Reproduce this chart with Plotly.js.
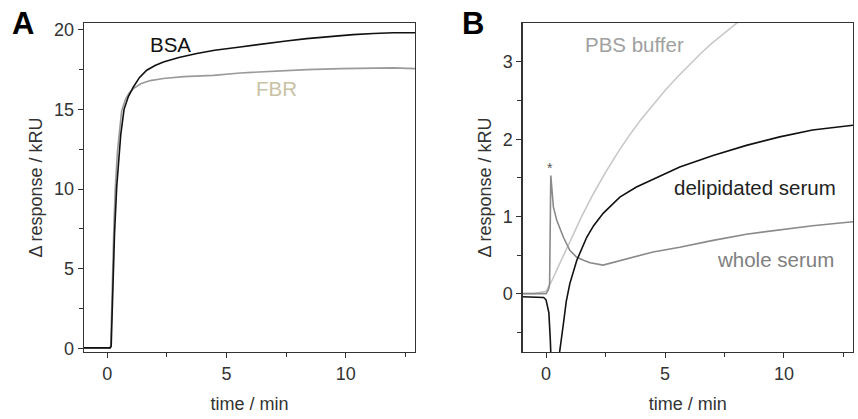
<!DOCTYPE html>
<html>
<head>
<meta charset="utf-8">
<script src="https://cdn.plot.ly/plotly-3.0.1.min.js"></script>
<style>html,body{margin:0;padding:0;background:#fff;}#chart{width:858px;height:419px;}</style>
</head>
<body>
<div id="chart"></div>
<script>
// Panel A: BSA and FBR adsorption (time / min, response / kRU)
const bsaTime = [-1, 0.12, 0.16, 0.2, 0.25, 0.3, 0.39, 0.49, 0.56, 0.7, 0.88, 1.09, 1.35, 1.65, 2.0, 2.35, 3.0, 3.75, 4.5, 5.57, 6.5, 7.5, 8.36, 9.5, 10.3, 11.16, 12.0, 12.9];
const bsaResp = [0.05, 0.05, 0.15, 2.5, 5.1, 7.2, 10.1, 12.4, 13.4, 15.0, 15.8, 16.4, 17.0, 17.45, 17.75, 17.97, 18.25, 18.5, 18.7, 18.91, 19.1, 19.28, 19.43, 19.6, 19.68, 19.75, 19.8, 19.8];
const fbrTime = [-1, 0.1, 0.14, 0.18, 0.23, 0.28, 0.33, 0.42, 0.5, 0.6, 0.75, 0.9, 1.09, 1.4, 1.8, 2.35, 3.2, 4.45, 5.57, 7.0, 8.36, 9.8, 11.16, 12.0, 12.9];
const fbrResp = [0.05, 0.05, 0.2, 2.8, 5.5, 8.0, 10.0, 12.3, 13.5, 14.9, 15.6, 16.0, 16.3, 16.6, 16.8, 16.93, 17.05, 17.13, 17.28, 17.4, 17.49, 17.55, 17.6, 17.6, 17.55];

// Panel B
const pbsTime = [-1, -0.5, 0, 0.25, 0.5, 1.0, 1.5, 2.0, 2.5, 3.0, 3.5, 4.0, 4.5, 5.0, 5.5, 6.0, 6.5, 7.0, 7.5, 8.0, 8.5];
const pbsResp = [0.0, 0.0, 0.03, 0.17, 0.34, 0.68, 1.0, 1.3, 1.57, 1.82, 2.05, 2.26, 2.45, 2.63, 2.8, 2.96, 3.11, 3.25, 3.38, 3.5, 3.62];
const delipTime = [-1, -0.5, -0.1, 0.0, 0.05, 0.12, 0.18, 0.22, 0.3, 0.45, 0.56, 0.73, 0.85, 1.0, 1.29, 1.71, 2.0, 2.4, 3.1, 3.8, 4.64, 5.62, 7.02, 8.42, 9.82, 11.2, 12.9];
const delipResp = [-0.04, -0.05, -0.05, -0.08, -0.14, -0.25, -0.6, -1.2, -1.6, -1.3, -0.78, -0.39, -0.1, 0.13, 0.43, 0.73, 0.88, 1.04, 1.25, 1.38, 1.5, 1.64, 1.79, 1.92, 2.03, 2.12, 2.18];
const wholeTime = [-1, -0.5, 0.0, 0.1, 0.15, 0.2, 0.24, 0.31, 0.45, 0.6, 0.73, 1.0, 1.29, 1.6, 1.85, 2.4, 3.1, 4.5, 5.62, 7.02, 8.42, 9.82, 11.2, 12.9];
const wholeResp = [0.0, 0.0, 0.0, 0.05, 0.12, 1.53, 1.38, 1.12, 0.95, 0.82, 0.73, 0.56, 0.47, 0.43, 0.4, 0.37, 0.43, 0.54, 0.6, 0.69, 0.77, 0.83, 0.88, 0.93];

const xTicks = [0, 5, 10];
const yTicksA = [0, 5, 10, 15, 20];
const yTicksB = [0, 1, 2, 3];

const FONT = 'Liberation Sans, Arial, sans-serif';
const axisCommon = {
  showline: true, linecolor: '#333', linewidth: 1.3, mirror: true,
  ticks: 'outside', ticklen: 5, tickcolor: '#333', tickwidth: 1,
  showgrid: false, zeroline: false,
  tickfont: {family: FONT, size: 18, color: '#333'},
  minor: {ticks: 'outside', ticklen: 4, tickcolor: '#333', tickwidth: 1, showgrid: false}
};
const titleFont = {family: FONT, size: 18, color: '#333'};

const traces = [
  {x: fbrTime, y: fbrResp, xaxis: 'x', yaxis: 'y', mode: 'lines', line: {color: '#9a9a9a', width: 1.6}, name: 'FBR'},
  {x: bsaTime, y: bsaResp, xaxis: 'x', yaxis: 'y', mode: 'lines', line: {color: '#111', width: 1.6}, name: 'BSA'},
  {x: pbsTime, y: pbsResp, xaxis: 'x2', yaxis: 'y2', mode: 'lines', line: {color: '#c8c8c8', width: 1.6}, name: 'PBS buffer'},
  {x: wholeTime, y: wholeResp, xaxis: 'x2', yaxis: 'y2', mode: 'lines', line: {color: '#8a8a8a', width: 1.6}, name: 'whole serum'},
  {x: delipTime, y: delipResp, xaxis: 'x2', yaxis: 'y2', mode: 'lines', line: {color: '#111', width: 1.6}, name: 'delipidated serum'}
];

const layout = {
  width: 858, height: 419,
  margin: {l: 84, r: 5, t: 23, b: 67},
  paper_bgcolor: '#fff', plot_bgcolor: '#fff',
  showlegend: false,
  font: {family: FONT, color: '#333'},
  xaxis: Object.assign({}, axisCommon, {domain: [0, 0.4304], range: [-0.98, 12.9], tickvals: xTicks, ticktext: xTicks.map(String), minor: Object.assign({}, axisCommon.minor, {tickvals: [2.5, 7.5, 12.5]}), title: {text: 'time / min', font: titleFont, standoff: 14}}),
  yaxis: Object.assign({}, axisCommon, {domain: [0, 1], range: [-0.21, 20.41], tickvals: yTicksA, ticktext: yTicksA.map(String), minor: Object.assign({}, axisCommon.minor, {tickvals: [2.5, 7.5, 12.5, 17.5]}), title: {text: '\u0394 response / kRU', font: titleFont, standoff: 6}}),
  xaxis2: Object.assign({}, axisCommon, {domain: [0.5705, 1], anchor: 'y2', range: [-0.98, 12.9], tickvals: xTicks, ticktext: xTicks.map(String), minor: Object.assign({}, axisCommon.minor, {tickvals: [2.5, 7.5, 12.5]}), title: {text: 'time / min', font: titleFont, standoff: 14}}),
  yaxis2: Object.assign({}, axisCommon, {domain: [0, 1], anchor: 'x2', range: [-0.756, 3.505], tickvals: yTicksB, ticktext: yTicksB.map(String), minor: Object.assign({}, axisCommon.minor, {tickvals: [-0.5, 0.5, 1.5, 2.5]}), title: {text: '\u0394 response / kRU', font: titleFont, standoff: 6}}),
  annotations: [
    {text: '<b>A</b>', xref: 'paper', yref: 'paper', x: -0.0787, y: 0.997, xanchor: 'center', yanchor: 'middle', showarrow: false, font: {family: FONT, size: 31, color: '#000'}},
    {text: '<b>B</b>', xref: 'paper', yref: 'paper', x: 0.5059, y: 0.997, xanchor: 'center', yanchor: 'middle', showarrow: false, font: {family: FONT, size: 31, color: '#000'}},
    {text: 'BSA', xref: 'x', yref: 'y', x: 2.63, y: 19.08, showarrow: false, font: {family: FONT, size: 20.5, color: '#111'}},
    {text: 'FBR', xref: 'x', yref: 'y', x: 7.1, y: 16.3, showarrow: false, font: {family: FONT, size: 20.5, color: '#c9c2a4'}},
    {text: 'PBS buffer', xref: 'x2', yref: 'y2', x: 3.73, y: 3.227, showarrow: false, font: {family: FONT, size: 20.5, color: '#a0a0a0'}},
    {text: 'delipidated serum', xref: 'x2', yref: 'y2', x: 8.8, y: 1.377, showarrow: false, font: {family: FONT, size: 20.5, color: '#222'}},
    {text: 'whole serum', xref: 'x2', yref: 'y2', x: 9.64, y: 0.44, showarrow: false, font: {family: FONT, size: 20.5, color: '#808080'}},
    {text: '*', xref: 'x2', yref: 'y2', x: 0.17, y: 1.63, showarrow: false, font: {family: FONT, size: 14, color: '#555'}}
  ]
};

Plotly.newPlot('chart', traces, layout, {displayModeBar: false, staticPlot: true});
</script>
</body>
</html>
